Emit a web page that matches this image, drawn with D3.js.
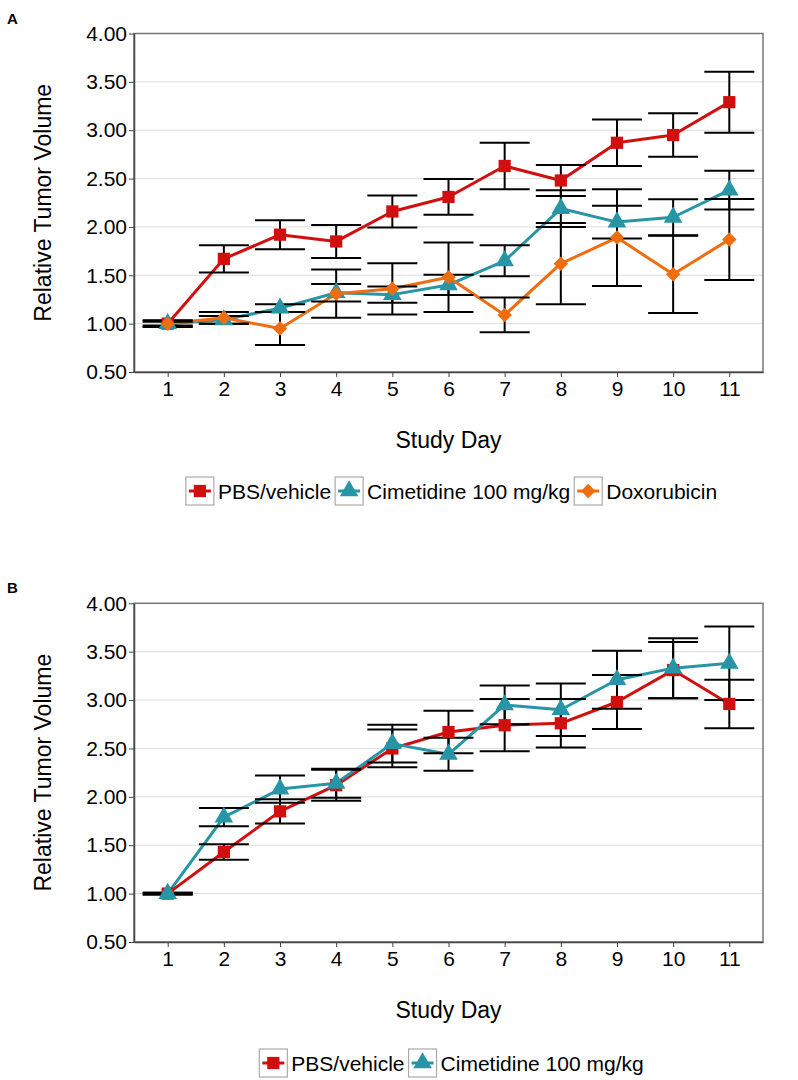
<!DOCTYPE html>
<html><head><meta charset="utf-8">
<script src="https://cdn.jsdelivr.net/npm/d3@7/dist/d3.min.js"></script>
<style>
body{margin:0;background:#fff;}
text{font-family:"Liberation Sans",Arial,Helvetica,sans-serif;fill:#000;}
</style></head>
<body><svg id="chart" width="798" height="1080"></svg>
<script>
const days = [1,2,3,4,5,6,7,8,9,10,11];
const yTicks = [0.5,1.0,1.5,2.0,2.5,3.0,3.5,4.0];
const seriesNames = ["PBS/vehicle","Cimetidine 100 mg/kg","Doxorubicin"];

const aPBS     = [1.00,1.67,1.92,1.85,2.16,2.31,2.63,2.48,2.87,2.95,3.29];
const aPBSErr  = [0.03,0.14,0.15,0.17,0.165,0.185,0.24,0.16,0.24,0.225,0.315];
const aCim     = [1.00,1.04,1.16,1.32,1.30,1.40,1.65,2.19,2.05,2.10,2.38];
const aCimErr  = [0.02,0.04,0.04,0.09,0.085,0.105,0.16,0.19,0.17,0.185,0.20];
const aDox     = [1.00,1.06,0.95,1.31,1.36,1.48,1.09,1.62,1.89,1.51,1.87];
const aDoxErr  = [0.035,0.06,0.17,0.25,0.265,0.36,0.18,0.42,0.50,0.40,0.42];

const bPBS     = [1.00,1.43,1.85,2.12,2.50,2.67,2.74,2.76,2.98,3.31,2.96];
const bPBSErr  = [0.01,0.08,0.125,0.16,0.195,0.22,0.27,0.25,0.28,0.29,0.25];
const bCim     = [1.00,1.79,2.08,2.14,2.55,2.44,2.95,2.90,3.21,3.33,3.38];
const bCimErr  = [0.01,0.095,0.14,0.15,0.195,0.17,0.20,0.27,0.30,0.31,0.38];

const colors = ["#d10f0f","#2795a6","#ee6e0f"];
const shapes = [d3.symbolSquare, d3.symbolTriangle, d3.symbolSquare];
const shapeSize = [150, 150, 105];
const shapeRot = [0, 0, 45];

const svg = d3.select("#chart");

function panel(opts){
  const {top, bottom, left, right, letter, series, legendY} = opts;
  const g = svg.append("g");
  const x = d3.scaleLinear().domain([0.4, 11.6]).range([left, right]);
  const y = d3.scaleLinear().domain([0.5, 4.0]).range([bottom, top]);

  g.append("text").attr("x", 7).attr("y", top - 10).attr("font-size", 15)
    .attr("font-weight", "bold").text(letter);

  g.append("g").selectAll("line").data(yTicks).join("line")
    .attr("x1", left).attr("x2", right)
    .attr("y1", d => y(d)).attr("y2", d => y(d))
    .attr("stroke", "#dedede").attr("stroke-width", 1);

  g.append("rect").attr("x", left).attr("y", top)
    .attr("width", right - left).attr("height", bottom - top)
    .attr("fill", "none").attr("stroke", "#777").attr("stroke-width", 1.5);

  const yAxis = d3.axisLeft(y).tickValues(yTicks).tickFormat(d3.format(".2f"))
    .tickSize(5).tickSizeOuter(0);
  const ya = g.append("g").attr("transform", `translate(${left},0)`).call(yAxis);
  ya.select(".domain").attr("stroke", "#444").attr("stroke-width", 1.5);
  ya.selectAll(".tick line").attr("stroke", "#444");
  ya.selectAll(".tick text").attr("font-size", 21).attr("x", -7)
    .attr("font-family", "Liberation Sans, Arial, sans-serif").attr("fill", "#000");

  const xAxis = d3.axisBottom(x).tickValues(days).tickFormat(d3.format("d"))
    .tickSize(5).tickSizeOuter(0);
  const xa = g.append("g").attr("transform", `translate(0,${bottom})`).call(xAxis);
  xa.select(".domain").attr("stroke", "#444").attr("stroke-width", 1.5);
  xa.selectAll(".tick line").attr("stroke", "#444");
  xa.selectAll(".tick text").attr("font-size", 21).attr("y", 9)
    .attr("font-family", "Liberation Sans, Arial, sans-serif").attr("fill", "#000");

  g.append("text").attr("x", (left + right) / 2).attr("y", bottom + 76)
    .attr("text-anchor", "middle").attr("font-size", 23).text("Study Day");
  g.append("text")
    .attr("transform", `translate(51,${(top + bottom) / 2}) rotate(-90)`)
    .attr("text-anchor", "middle").attr("font-size", 23).text("Relative Tumor Volume");

  const line = d3.line().x((d, i) => x(days[i])).y(d => y(d));

  series.forEach(s => {
    g.append("path").datum(s.values).attr("d", line)
      .attr("fill", "none").attr("stroke", colors[s.idx]).attr("stroke-width", 3)
      .attr("stroke-linejoin", "round");
  });
  const cap = 25;
  series.forEach(s => {
    const eg = g.append("g").attr("stroke", "#000").attr("stroke-width", 2);
    s.values.forEach((v, i) => {
      const cx = x(days[i]);
      const y1 = y(v + s.err[i]), y0 = y(v - s.err[i]);
      eg.append("line").attr("x1", cx).attr("x2", cx).attr("y1", y1).attr("y2", y0);
      eg.append("line").attr("x1", cx - cap).attr("x2", cx + cap).attr("y1", y1).attr("y2", y1);
      eg.append("line").attr("x1", cx - cap).attr("x2", cx + cap).attr("y1", y0).attr("y2", y0);
    });
  });
  series.forEach(s => {
    g.append("g").selectAll("path").data(s.values).join("path")
      .attr("transform", (d, i) => `translate(${x(days[i])},${y(d)}) rotate(${shapeRot[s.idx]})`)
      .attr("d", d3.symbol().type(shapes[s.idx]).size(shapeSize[s.idx]))
      .attr("fill", colors[s.idx]);
  });

  const lg = g.append("g");
  let cursor = 0;
  series.forEach(s => {
    const it = lg.append("g").attr("transform", `translate(${cursor},0)`);
    it.append("rect").attr("x", 0).attr("y", 0).attr("width", 28).attr("height", 28)
      .attr("fill", "#fff").attr("stroke", "#aaa").attr("stroke-width", 1.2);
    it.append("line").attr("x1", 3).attr("x2", 25).attr("y1", 14).attr("y2", 14)
      .attr("stroke", colors[s.idx]).attr("stroke-width", 3);
    it.append("path").attr("transform", `translate(14,14) rotate(${shapeRot[s.idx]})`)
      .attr("d", d3.symbol().type(shapes[s.idx]).size(shapeSize[s.idx]))
      .attr("fill", colors[s.idx]);
    const t = it.append("text").attr("x", 32).attr("y", 22).attr("font-size", 21)
      .text(seriesNames[s.idx]);
    const w = t.node().getComputedTextLength();
    cursor += 32 + w + 4;
  });
  const total = cursor - 4;
  lg.attr("transform", `translate(${(left + right) / 2 + 3 - total / 2},${legendY})`);
}

panel({top: 33.5, bottom: 372, left: 134, right: 763, letter: "A", legendY: 477,
  series: [
    {idx: 0, values: aPBS, err: aPBSErr},
    {idx: 1, values: aCim, err: aCimErr},
    {idx: 2, values: aDox, err: aDoxErr}
  ]});
panel({top: 603.3, bottom: 942, left: 134, right: 763, letter: "B", legendY: 1049,
  series: [
    {idx: 0, values: bPBS, err: bPBSErr},
    {idx: 1, values: bCim, err: bCimErr}
  ]});
</script>
</body></html>
